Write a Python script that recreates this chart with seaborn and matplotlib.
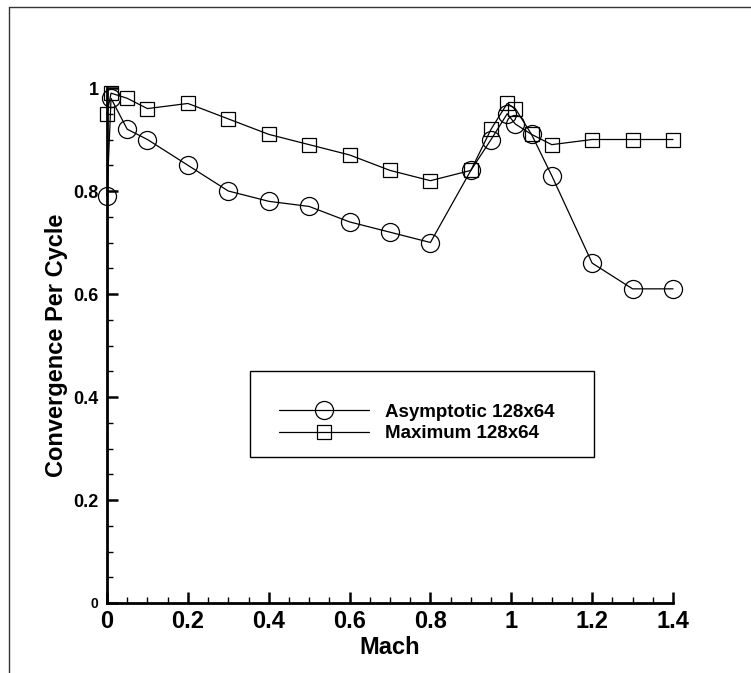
import matplotlib
matplotlib.use("Agg")
import matplotlib.pyplot as plt
from matplotlib.lines import Line2D
from matplotlib.patches import Rectangle
from matplotlib.ticker import MultipleLocator, FixedLocator, FixedFormatter
import seaborn as sns
import pandas as pd

# ---- data ----
asym_mach = [0.0, 0.01, 0.05, 0.1, 0.2, 0.3, 0.4, 0.5, 0.6, 0.7, 0.8, 0.9,
             0.95, 0.99, 1.01, 1.05, 1.1, 1.2, 1.3, 1.4]
asym_conv = [0.79, 0.98, 0.92, 0.90, 0.85, 0.80, 0.78, 0.77, 0.74, 0.72, 0.70,
             0.84, 0.90, 0.95, 0.93, 0.91, 0.83, 0.66, 0.61, 0.61]
max_mach = [0.0, 0.01, 0.05, 0.1, 0.2, 0.3, 0.4, 0.5, 0.6, 0.7, 0.8, 0.9,
            0.95, 0.99, 1.01, 1.05, 1.1, 1.2, 1.3, 1.4]
max_conv = [0.95, 0.99, 0.98, 0.96, 0.97, 0.94, 0.91, 0.89, 0.87, 0.84, 0.82,
            0.84, 0.92, 0.97, 0.96, 0.91, 0.89, 0.90, 0.90, 0.90]
series_labels = ["Asymptotic 128x64", "Maximum 128x64"]
x_ticks = [0, 0.2, 0.4, 0.6, 0.8, 1.0, 1.2, 1.4]
x_ticklabels = ["0", "0.2", "0.4", "0.6", "0.8", "1", "1.2", "1.4"]
y_ticks = [0, 0.2, 0.4, 0.6, 0.8, 1.0]
y_ticklabels = ["0", "0.2", "0.4", "0.6", "0.8", "1"]

sns.set_theme(style="white")
plt.rcParams["font.family"] = ["Liberation Sans", "DejaVu Sans"]
plt.rcParams["font.weight"] = "bold"
plt.rcParams["text.color"] = "black"
plt.rcParams["axes.labelcolor"] = "black"
plt.rcParams["xtick.color"] = "black"
plt.rcParams["ytick.color"] = "black"

fig = plt.figure(figsize=(7.51, 6.73), dpi=100)
ax = fig.add_axes([107 / 751, 1 - 603 / 673, (673 - 107) / 751, (603 - 88) / 673])

df_a = pd.DataFrame({"Mach": asym_mach, "Conv": asym_conv})
df_m = pd.DataFrame({"Mach": max_mach, "Conv": max_conv})

sns.lineplot(data=df_a, x="Mach", y="Conv", ax=ax, color="black", lw=0.9,
             marker="o", markersize=13, markerfacecolor="none",
             markeredgecolor="black", markeredgewidth=0.9,
             estimator=None, sort=False, label=series_labels[0], clip_on=False)
sns.lineplot(data=df_m, x="Mach", y="Conv", ax=ax, color="black", lw=0.9,
             marker="s", markersize=10, markerfacecolor="none",
             markeredgecolor="black", markeredgewidth=0.9,
             estimator=None, sort=False, label=series_labels[1], clip_on=False)

ax.set_xlim(0, 1.4)
ax.set_ylim(0, 1.0)
for s in ["top", "right"]:
    ax.spines[s].set_visible(False)
for s in ["left", "bottom"]:
    ax.spines[s].set_linewidth(2.0)
    ax.spines[s].set_color("black")

ax.xaxis.set_major_locator(FixedLocator(x_ticks))
ax.xaxis.set_major_formatter(FixedFormatter(x_ticklabels))
ax.yaxis.set_major_locator(FixedLocator(y_ticks))
ax.yaxis.set_major_formatter(FixedFormatter(y_ticklabels))
ax.xaxis.set_minor_locator(MultipleLocator(0.05))
ax.yaxis.set_minor_locator(MultipleLocator(0.05))

ax.tick_params(axis="both", which="major", direction="in", length=8, width=1.8,
               color="black", labelcolor="black", bottom=True, left=True)
ax.tick_params(axis="both", which="minor", direction="in", length=4.5, width=1.0,
               color="black", bottom=True, left=True)
ax.tick_params(axis="x", which="major", labelsize=17, pad=5)
ax.tick_params(axis="y", which="major", labelsize=13, pad=6)
for lbl in ax.get_xticklabels() + ax.get_yticklabels():
    lbl.set_fontweight("bold")
ylbls = ax.get_yticklabels()
ylbls[0].set_fontsize(10)

ax.set_xlabel("Mach", fontsize=17, fontweight="bold", labelpad=2, color="black")
ax.set_ylabel("Convergence Per Cycle", fontsize=17, fontweight="bold",
              labelpad=4, color="black")
ax.grid(False)

leg = ax.legend(loc="center left", bbox_to_anchor=(279 / 751, 1 - 423 / 673),
                bbox_transform=fig.transFigure, frameon=False, fontsize=13.5,
                handlelength=4.8, handletextpad=0.85, labelspacing=0.25,
                borderpad=0, borderaxespad=0)
for t in leg.get_texts():
    t.set_fontweight("bold")
    t.set_color("black")

fig.add_artist(Rectangle((250 / 751, 1 - 457 / 673), (594 - 250) / 751,
                         (457 - 371) / 673, transform=fig.transFigure,
                         fill=False, edgecolor="black", linewidth=1.0))

# figure frame (top and left edges)
fig.add_artist(Line2D([9 / 751, 9 / 751], [0, 1 - 7 / 673],
                      transform=fig.transFigure, color="#333333", lw=1.0))
fig.add_artist(Line2D([9 / 751, 1], [1 - 7 / 673, 1 - 7 / 673],
                      transform=fig.transFigure, color="#333333", lw=1.0))

fig.savefig("out.png", dpi=100)
